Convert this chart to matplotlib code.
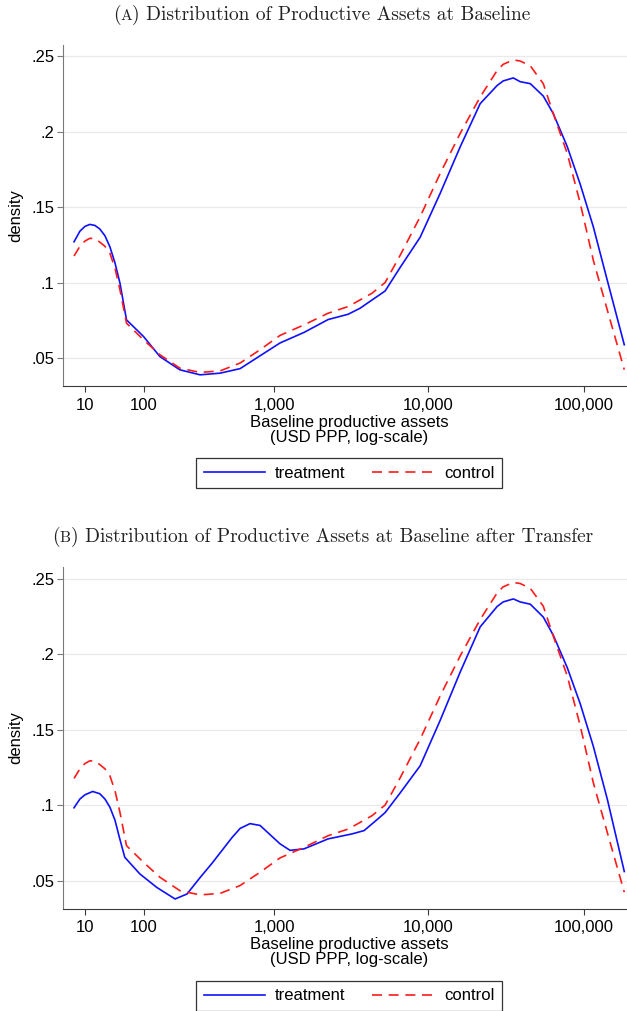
import numpy as np
import matplotlib
matplotlib.use('Agg')
import matplotlib.pyplot as plt
from matplotlib.ticker import FixedLocator, FixedFormatter

# baseline productive assets, USD PPP (x) and kernel density (y)
assets_a = [0.5, 5.5, 10.2, 15, 20.5, 26, 32.4, 39, 46.3, 54, 65, 99, 141,
            208, 299, 420, 582, 799, 1091, 1576, 2267, 3060, 3661, 4379,
            5311, 6637, 8927, 11990, 16110, 21650, 27800, 30370, 35250,
            39010, 45270, 54790, 63450, 77950, 94390, 114300, 140400, 180300]
treatment_a = [0.127, 0.134, 0.1372, 0.1385, 0.1378, 0.1355, 0.131, 0.1237,
               0.113, 0.0996, 0.0753, 0.0643, 0.051, 0.0422, 0.0389, 0.040,
               0.043, 0.0515, 0.060, 0.067, 0.0755, 0.079, 0.083, 0.0885,
               0.0944, 0.110, 0.130, 0.159, 0.1898, 0.2185, 0.2305, 0.2335,
               0.2355, 0.233, 0.2317, 0.2235, 0.2119, 0.190, 0.165, 0.137,
               0.1015, 0.0588]
control_a = [0.1176, 0.124, 0.1275, 0.1293, 0.129, 0.1268, 0.124, 0.1194,
             0.1095, 0.0951, 0.0731, 0.0621, 0.0522, 0.0433, 0.0405, 0.0415,
             0.0467, 0.0555, 0.065, 0.072, 0.0797, 0.0841, 0.0885, 0.093,
             0.100, 0.118, 0.1436, 0.1722, 0.1987, 0.2229, 0.2405, 0.2445,
             0.2474, 0.2467, 0.2435, 0.2317, 0.2119, 0.1855, 0.1524, 0.1149,
             0.0819, 0.0423]

# after transfer: treatment shifts, control is unchanged
assets_b = [0.5, 5.5, 10.2, 18, 26, 32.4, 39, 46.3, 53, 62, 91, 132, 190,
            237, 299, 367, 511, 582, 682, 799, 1091, 1273, 1576, 2267, 3249,
            3886, 4646, 5311, 6637, 8927, 11990, 16110, 21650, 27800, 30370,
            35250, 39010, 45270, 54790, 63450, 77950, 94390, 114300, 140400,
            180300]
treatment_b = [0.0982, 0.104, 0.1068, 0.109, 0.1075, 0.104, 0.0986, 0.090,
               0.0787, 0.0654, 0.0544, 0.0455, 0.0378, 0.0411, 0.052, 0.0615,
               0.0785, 0.0845, 0.0877, 0.0865, 0.0743, 0.070, 0.071, 0.0776,
               0.0809, 0.0831, 0.0898, 0.095, 0.108, 0.126, 0.156, 0.188,
               0.218, 0.2315, 0.2345, 0.2365, 0.2345, 0.233, 0.2245, 0.2125,
               0.191, 0.167, 0.139, 0.104, 0.056]
control_b = control_a

x_ticks = [10, 100, 1000, 10000, 100000]
x_ticklabels = ['10', '100', '1,000', '10,000', '100,000']
y_ticks = [0.05, 0.1, 0.15, 0.2, 0.25]
y_ticklabels = ['.05', '.1', '.15', '.2', '.25']

SHIFT = 55.0


def fwd(x):
    return np.log10(np.maximum(np.asarray(x, dtype=float) + SHIFT, 1e-6))


def inv(y):
    return 10 ** np.asarray(y, dtype=float) - SHIFT


W, H = 627, 1011
plt.rcParams['font.family'] = ['Liberation Sans', 'DejaVu Sans']
fig = plt.figure(figsize=(W / 100, H / 100), dpi=100)


def small_caps_title(pieces, x_px, base_px):
    renderer = fig.canvas.get_renderer()
    x = x_px
    for s, size in pieces:
        t = fig.text(x / W, 1 - base_px / H, s, fontsize=size,
                     family='cmr10', va='baseline', ha='left', color='#222222')
        bb = t.get_window_extent(renderer)
        x = bb.x1


def panel(rect, assets, treat, assets_c, ctrl, legend_y):
    ax = fig.add_axes(rect)
    ax.set_xscale('function', functions=(fwd, inv))
    ax.plot(assets, treat, color='#1010ff', lw=1.2, label='treatment')
    ax.plot(assets_c, ctrl, color='#ff1a1a', lw=1.2, ls=(0, (6, 4)),
            label='control')
    ax.set_xlim(-7.6, 212000)
    ax.set_ylim(0.0315, 0.2573)
    ax.xaxis.set_major_locator(FixedLocator(x_ticks))
    ax.xaxis.set_major_formatter(FixedFormatter(x_ticklabels))
    ax.xaxis.set_minor_locator(FixedLocator([]))
    ax.set_yticks(y_ticks)
    ax.set_yticklabels(y_ticklabels)
    ax.grid(axis='y', color='#eaeaea', lw=0.9)
    ax.set_axisbelow(True)
    for side in ('top', 'right'):
        ax.spines[side].set_visible(False)
    ax.spines['left'].set_color('#7a7a7a')
    ax.spines['bottom'].set_color('#3a3a3a')
    ax.tick_params(axis='y', length=4.5, width=0.8, color='#7a7a7a',
                   labelsize=12, pad=2)
    ax.tick_params(axis='x', length=4.5, width=0.8, color='#3a3a3a',
                   labelsize=12, pad=4)
    ax.set_ylabel('density', fontsize=12, labelpad=6)
    ax.set_xlabel('Baseline productive assets\n(USD PPP, log-scale)',
                  fontsize=12, linespacing=1.0, labelpad=1.5)
    leg = fig.legend(*ax.get_legend_handles_labels(), loc='center',
                     bbox_to_anchor=(349 / W, 1 - legend_y / H), ncol=2,
                     fontsize=12, frameon=True, fancybox=False,
                     edgecolor='#333333', framealpha=1, handlelength=3.7,
                     handletextpad=0.6, columnspacing=1.6, borderpad=0.45)
    leg.get_frame().set_linewidth(0.9)
    return ax


panel([63.3 / W, 1 - 386 / H, 572 / W, 341 / H],
      assets_a, treatment_a, assets_a, control_a, 473)
panel([63.3 / W, 1 - 908.5 / H, 572 / W, 341 / H],
      assets_b, treatment_b, assets_a, control_b, 996)

small_caps_title([('(', 14), ('A', 11.2),
                  (') Distribution of Productive Assets at Baseline', 14)],
                 113, 20)
small_caps_title([('(', 14), ('B', 11.2),
                  (') Distribution of Productive Assets at Baseline after Transfer', 14)],
                 52, 542)

fig.savefig('out.png', dpi=100)
